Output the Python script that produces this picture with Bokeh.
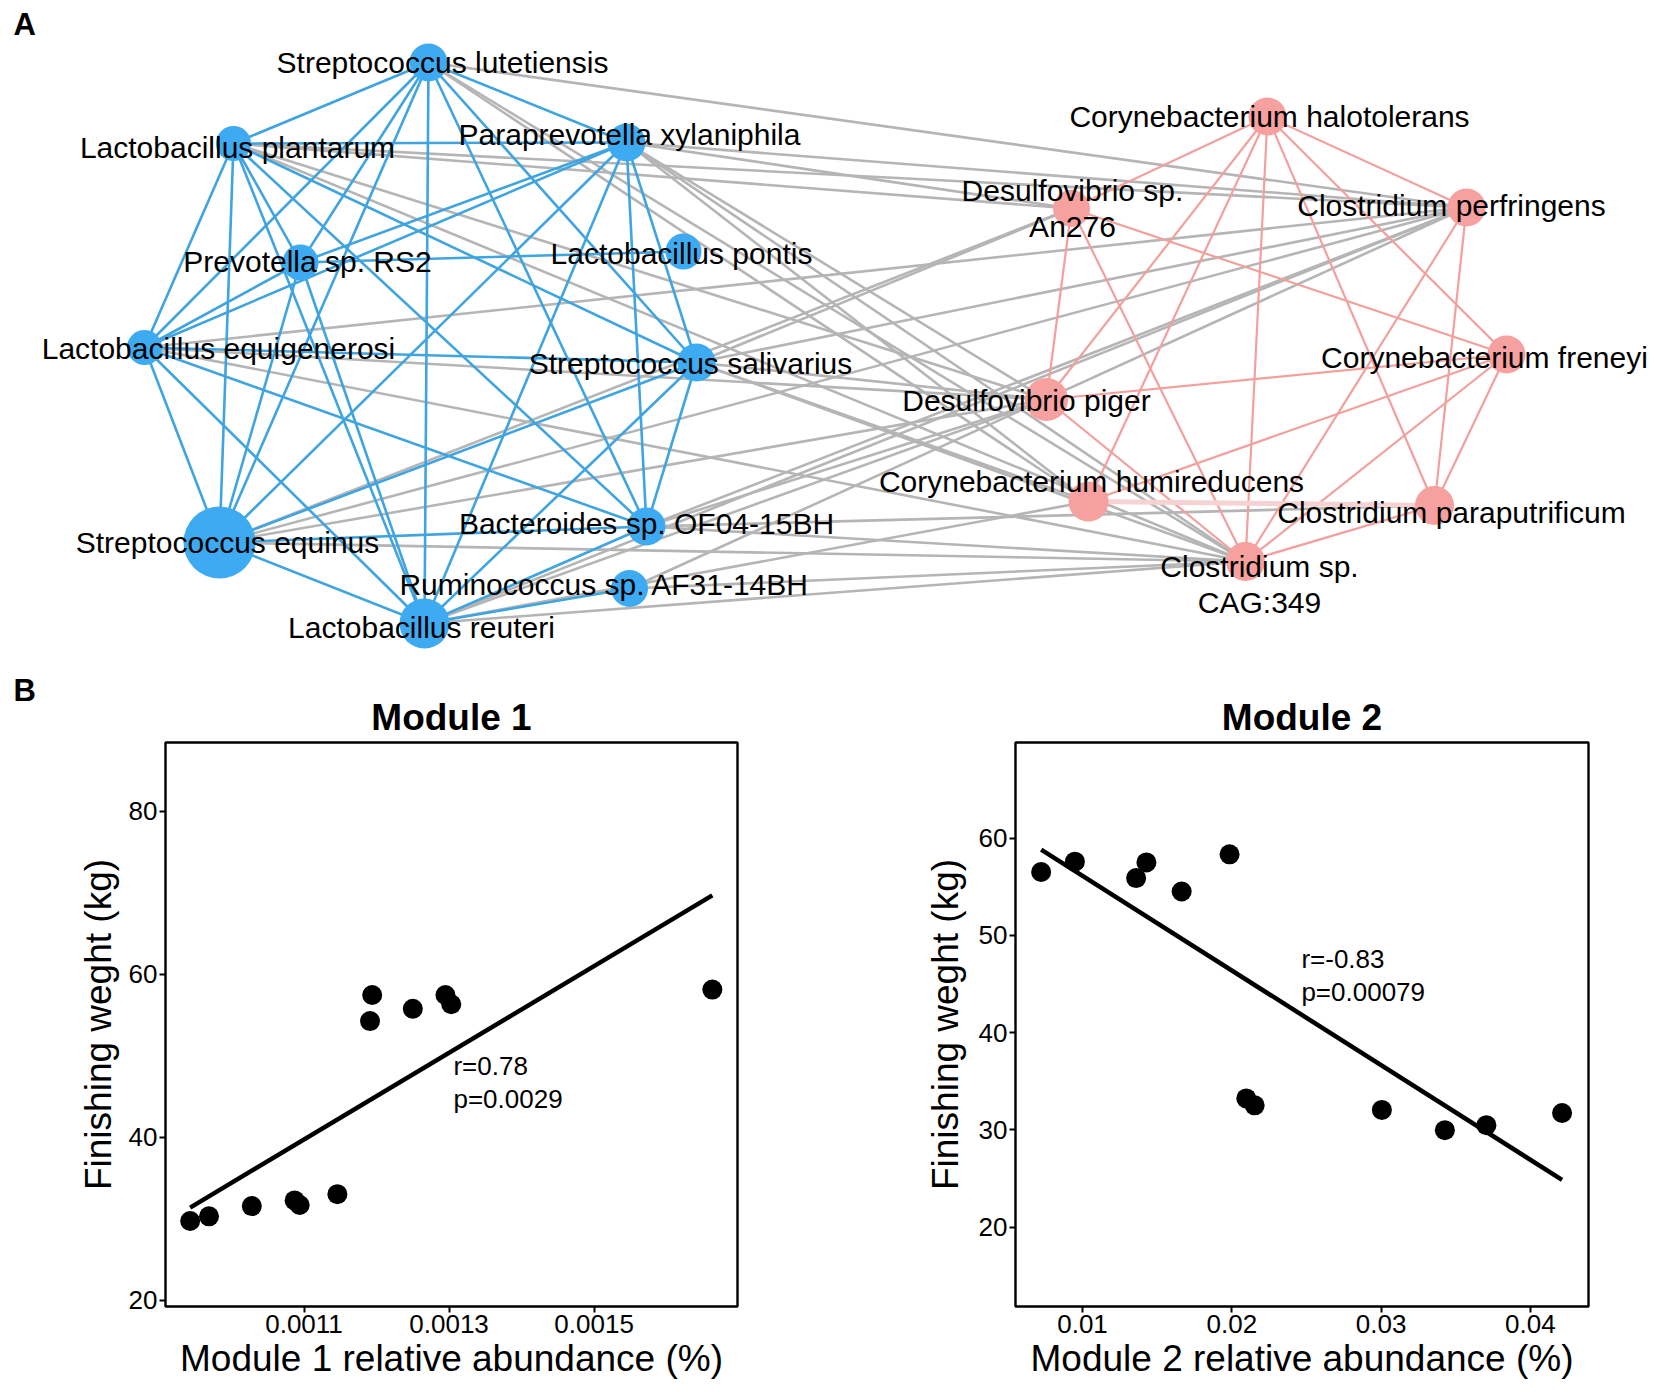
from bokeh.plotting import figure
from bokeh.layouts import column, row
from bokeh.models import Range1d, FixedTicker, PrintfTickFormatter
from bokeh.embed import file_html
from bokeh.resources import INLINE
from bokeh.core.properties import value
import numpy as np

FONT = "Liberation Sans"

# ---------------- network (panel A) ----------------
node_names = [
    "Streptococcus lutetiensis", "Lactobacillus plantarum", "Paraprevotella xylaniphila",
    "Prevotella sp. RS2", "Lactobacillus pontis", "Lactobacillus equigenerosi",
    "Streptococcus salivarius", "Streptococcus equinus", "Bacteroides sp. OF04-15BH",
    "Ruminococcus sp. AF31-14BH", "Lactobacillus reuteri",
    "Corynebacterium halotolerans", "Desulfovibrio sp.\nAn276", "Clostridium perfringens",
    "Corynebacterium freneyi", "Desulfovibrio piger", "Corynebacterium humireducens",
    "Clostridium paraputrificum", "Clostridium sp.\nCAG:349",
]
node_module = [1] * 11 + [2] * 8
node_x = [428, 233, 626, 300, 683, 144, 696, 219, 646, 629, 424,
          1267, 1071, 1466, 1506, 1046, 1088, 1434, 1245]
node_y = [62, 143, 142, 262, 251, 347, 362, 542, 526, 588, 623,
          116, 208, 207, 354, 399, 501, 505, 561]
node_size = [38, 35, 38, 36, 36, 35, 38, 72, 38, 37, 50,
             38, 37, 38, 38, 43, 40, 39, 39]
label_x = [442, 237, 629, 307, 681, 218, 690, 227, 646, 604, 421,
           1269, 1072, 1451, 1484, 1026, 1091, 1451, 1259]
label_y = [62, 147, 134, 261, 253, 348, 363, 542, 523, 584, 627,
           116, 208, 205, 357, 400, 481, 512, 584]

edges_module1 = [(0, 1), (0, 2), (0, 10), (0, 6), (0, 8), (0, 5), (0, 7), (0, 3),
                 (1, 2), (1, 5), (1, 7), (1, 3), (1, 10), (1, 6), (1, 8),
                 (2, 6), (2, 8), (2, 10), (2, 7), (2, 3), (2, 5),
                 (3, 4), (3, 5), (3, 10),
                 (5, 6), (5, 7), (5, 10), (5, 8),
                 (6, 7), (6, 8), (6, 10),
                 (7, 8), (7, 10), (7, 3),
                 (8, 10), (9, 10)]
edges_module2 = [(11, 12), (11, 13), (11, 15), (11, 16), (11, 18), (11, 17), (11, 14),
                 (12, 15), (12, 18), (12, 14),
                 (13, 18), (13, 17),
                 (14, 15), (14, 16), (14, 18), (14, 17),
                 (15, 18), (17, 18)]
edges_module2_weak = [(16, 17)]
edges_between = [(0, 13), (0, 18), (0, 16),
                 (1, 13), (1, 12), (1, 15), (1, 18),
                 (2, 13), (2, 12), (2, 18), (2, 16), (2, 15),
                 (5, 13), (5, 15), (5, 18),
                 (6, 13), (6, 12), (6, 18), (6, 15), (6, 16),
                 (7, 13), (7, 12), (7, 15), (7, 18),
                 (8, 13), (8, 17), (8, 18), (8, 15),
                 (9, 13), (9, 18),
                 (10, 13), (10, 18), (10, 16), (10, 15)]

# ---------------- scatter data (panel B) ----------------
panel_titles = ["Module 1", "Module 2"]
m1_abund = [0.000943, 0.000969, 0.001028, 0.001087, 0.001094, 0.001146,
            0.001194, 0.001191, 0.001250, 0.001295, 0.001303, 0.001663]
m1_weight = [29.75, 30.32, 31.58, 32.28, 31.72, 33.04,
             57.48, 54.28, 55.79, 57.48, 56.35, 58.14]
m2_abund = [0.00723, 0.00949, 0.01359, 0.01428, 0.01664, 0.01985,
            0.02097, 0.02153, 0.03005, 0.03427, 0.03705, 0.04212]
m2_weight = [56.51, 57.57, 55.88, 57.49, 54.50, 58.32,
             33.23, 32.52, 32.05, 29.97, 30.48, 31.73]
m1_stats = "r=0.78\np=0.0029"
m2_stats = "r=-0.83\np=0.00079"
m1_xticks = [0.0011, 0.0013, 0.0015]
m1_yticks = [20, 40, 60, 80]
m2_xticks = [0.01, 0.02, 0.03, 0.04]
m2_yticks = [20, 30, 40, 50, 60]

# ---------------- styles / layout ----------------
BLUE_NODE = "#3DAAF2"
BLUE_EDGE = "#3FA4E0"
PINK_NODE = "#F6A19F"
PINK_EDGE = "#F2A09D"
PINK_WEAK = "#F7D2D2"
GRAY_EDGE = "#B5B5B5"

W = 1654
HALF = 827
NET_H = 740                # top figure also carries the "B" tag and panel titles
B_H = 1392 - NET_H
TOP, BOTTOM = 2, 86
P1_LEFT, P1_RIGHT = 165, 90
P2_LEFT, P2_RIGHT = 188, 66

net = figure(width=W, height=NET_H, x_range=Range1d(0, W),
             y_range=Range1d(NET_H, 0), output_backend="svg",
             toolbar_location=None, x_axis_location=None, y_axis_location=None,
             min_border=0)
net.grid.visible = False
net.outline_line_color = None


def seg(edges):
    return dict(x0=[node_x[a] for a, b in edges], y0=[node_y[a] for a, b in edges],
                x1=[node_x[b] for a, b in edges], y1=[node_y[b] for a, b in edges])


for edges, col, lw in [(edges_between, GRAY_EDGE, 2.6), (edges_module1, BLUE_EDGE, 2.6),
                       (edges_module2, PINK_EDGE, 2.2), (edges_module2_weak, PINK_WEAK, 5)]:
    d = seg(edges)
    net.segment(x0=d["x0"], y0=d["y0"], x1=d["x1"], y1=d["y1"], line_color=col, line_width=lw)

node_colors = [BLUE_NODE if m == 1 else PINK_NODE for m in node_module]
net.scatter(x=node_x, y=node_y, size=node_size, fill_color=node_colors, line_color=None)
net.text(x=label_x, y=label_y, text=node_names, text_align="center", text_baseline="middle",
         text_font=value(FONT), text_font_size="30px", text_color="black", text_line_height=1.1)
net.text(x=[13, 13], y=[24, 690], text=["A", "B"], text_align="left", text_baseline="middle",
         text_font=value(FONT), text_font_size="31px", text_font_style="bold", text_color="black")

# panel titles centred over each scatter frame
title_x = [P1_LEFT + (HALF - P1_LEFT - P1_RIGHT) / 2,
           HALF + P2_LEFT + (HALF - P2_LEFT - P2_RIGHT) / 2]
net.text(x=title_x, y=[717, 717], text=panel_titles, text_align="center", text_baseline="middle",
         text_font=value(FONT), text_font_size="37px", text_font_style="bold", text_color="black")


def panel(xs, ys, xr, yr, xticks, yticks, xfmt, xlabel, stats, sx, sy, left, right, ystand):
    p = figure(width=HALF, height=B_H, x_range=Range1d(*xr), y_range=Range1d(*yr),
               output_backend="svg", toolbar_location=None,
               min_border_left=left, min_border_right=right, min_border_top=TOP,
               min_border_bottom=BOTTOM)
    p.grid.visible = False
    p.outline_line_color = "black"
    p.outline_line_width = 2.4
    p.xaxis.ticker = FixedTicker(ticks=xticks)
    p.yaxis.ticker = FixedTicker(ticks=yticks)
    p.xaxis.formatter = PrintfTickFormatter(format=xfmt)
    p.yaxis.formatter = PrintfTickFormatter(format="%d")
    for ax in (p.xaxis, p.yaxis):
        ax.axis_line_color = None
        ax.major_tick_line_color = "black"
        ax.major_tick_line_width = 2
        ax.major_tick_out = 6
        ax.major_tick_in = 0
        ax.minor_tick_line_color = None
        ax.major_label_text_font = FONT
        ax.major_label_text_font_size = "26px"
        ax.major_label_text_color = "black"
        ax.major_label_standoff = 2
        ax.axis_label_text_font = FONT
        ax.axis_label_text_font_size = "37px"
        ax.axis_label_text_font_style = "normal"
        ax.axis_label_text_color = "black"
    p.xaxis.axis_label = xlabel
    p.yaxis.axis_label = "Finishing weght (kg)"
    p.xaxis.axis_label_standoff = 2
    p.yaxis.axis_label_standoff = ystand

    xa = np.array(xs)
    ya = np.array(ys)
    k, b = np.polyfit(xa, ya, 1)
    lx = np.array([xa.min(), xa.max()])
    p.line(lx, k * lx + b, line_color="black", line_width=4.5)
    p.scatter(xs, ys, size=20, fill_color="black", line_color=None)
    p.text(x=[sx], y=[sy], text=[stats], text_align="left", text_baseline="middle",
           text_font=value(FONT), text_font_size="26px", text_color="black", text_line_height=1.1)
    return p


p1 = panel(m1_abund, m1_weight, (0.000909, 0.0016977), (19.26, 88.46),
           m1_xticks, m1_yticks, "%.4f", "Module 1 relative abundance (%)",
           m1_stats, 0.001306, 46.7, P1_LEFT, P1_RIGHT, 7)
p2 = panel(m2_abund, m2_weight, (0.005512, 0.04389), (11.84, 69.82),
           m2_xticks, m2_yticks, "%.2f", "Module 2 relative abundance (%)",
           m2_stats, 0.02466, 45.9, P2_LEFT, P2_RIGHT, 10)

layout = column(net, row(p1, p2, spacing=0), spacing=0)
open("out.html", "w").write(file_html(layout, INLINE))
